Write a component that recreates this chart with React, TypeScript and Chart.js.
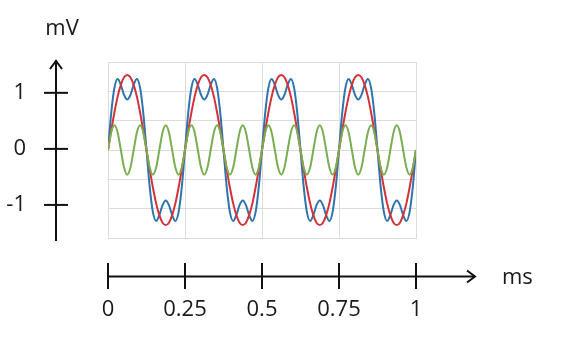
import React, { useEffect, useRef } from "react";
import { Chart, registerables } from "chart.js";

Chart.register(...registerables);

// time in ms
const times = [
  0, 0.0104, 0.0208, 0.0313, 0.0417, 0.0521, 0.0625, 0.0729, 0.0833, 0.0938, 0.1042, 0.1146, 0.125, 0.1354, 0.1458, 0.1563, 0.1667, 0.1771, 0.1875, 0.1979, 0.2083, 0.2188, 0.2292, 0.2396, 0.25,
  0.2604, 0.2708, 0.2813, 0.2917, 0.3021, 0.3125, 0.3229, 0.3333, 0.3438, 0.3542, 0.3646, 0.375, 0.3854, 0.3958, 0.4063, 0.4167, 0.4271, 0.4375, 0.4479, 0.4583, 0.4688, 0.4792, 0.4896, 0.5,
  0.5104, 0.5208, 0.5313, 0.5417, 0.5521, 0.5625, 0.5729, 0.5833, 0.5938, 0.6042, 0.6146, 0.625, 0.6354, 0.6458, 0.6563, 0.6667, 0.6771, 0.6875, 0.6979, 0.7083, 0.7188, 0.7292, 0.7396, 0.75,
  0.7604, 0.7708, 0.7813, 0.7917, 0.8021, 0.8125, 0.8229, 0.8333, 0.8438, 0.8542, 0.8646, 0.875, 0.8854, 0.8958, 0.9063, 0.9167, 0.9271, 0.9375, 0.9479, 0.9583, 0.9688, 0.9792, 0.9896, 1,
];

// fundamental (red), mV
const fundamental = [
  0, 0.33, 0.64, 0.91, 1.11, 1.24, 1.28, 1.24, 1.11, 0.91, 0.64, 0.33, 0, -0.33, -0.64, -0.91, -1.11, -1.24, -1.28, -1.24, -1.11, -0.91, -0.64, -0.33,
  0, 0.33, 0.64, 0.91, 1.11, 1.24, 1.28, 1.24, 1.11, 0.91, 0.64, 0.33, 0, -0.33, -0.64, -0.91, -1.11, -1.24, -1.28, -1.24, -1.11, -0.91, -0.64, -0.33,
  0, 0.33, 0.64, 0.91, 1.11, 1.24, 1.28, 1.24, 1.11, 0.91, 0.64, 0.33, 0, -0.33, -0.64, -0.91, -1.11, -1.24, -1.28, -1.24, -1.11, -0.91, -0.64, -0.33,
  0, 0.33, 0.64, 0.91, 1.11, 1.24, 1.28, 1.24, 1.11, 0.91, 0.64, 0.33, 0, -0.33, -0.64, -0.91, -1.11, -1.24, -1.28, -1.24, -1.11, -0.91, -0.64, -0.33,
  0,
];

// third harmonic (green), mV
const harmonic = [
  0, 0.3, 0.42, 0.3, 0, -0.3, -0.42, -0.3, 0, 0.3, 0.42, 0.3, 0, -0.3, -0.42, -0.3, 0, 0.3, 0.42, 0.3, 0, -0.3, -0.42, -0.3,
  0, 0.3, 0.42, 0.3, 0, -0.3, -0.42, -0.3, 0, 0.3, 0.42, 0.3, 0, -0.3, -0.42, -0.3, 0, 0.3, 0.42, 0.3, 0, -0.3, -0.42, -0.3,
  0, 0.3, 0.42, 0.3, 0, -0.3, -0.42, -0.3, 0, 0.3, 0.42, 0.3, 0, -0.3, -0.42, -0.3, 0, 0.3, 0.42, 0.3, 0, -0.3, -0.42, -0.3,
  0, 0.3, 0.42, 0.3, 0, -0.3, -0.42, -0.3, 0, 0.3, 0.42, 0.3, 0, -0.3, -0.42, -0.3, 0, 0.3, 0.42, 0.3, 0, -0.3, -0.42, -0.3,
  0,
];

// combined signal (blue), mV
const combined = [
  0, 0.63, 1.06, 1.21, 1.11, 0.94, 0.86, 0.94, 1.11, 1.21, 1.06, 0.63, 0, -0.63, -1.06, -1.21, -1.11, -0.94, -0.86, -0.94, -1.11, -1.21, -1.06, -0.63,
  0, 0.63, 1.06, 1.21, 1.11, 0.94, 0.86, 0.94, 1.11, 1.21, 1.06, 0.63, 0, -0.63, -1.06, -1.21, -1.11, -0.94, -0.86, -0.94, -1.11, -1.21, -1.06, -0.63,
  0, 0.63, 1.06, 1.21, 1.11, 0.94, 0.86, 0.94, 1.11, 1.21, 1.06, 0.63, 0, -0.63, -1.06, -1.21, -1.11, -0.94, -0.86, -0.94, -1.11, -1.21, -1.06, -0.63,
  0, 0.63, 1.06, 1.21, 1.11, 0.94, 0.86, 0.94, 1.11, 1.21, 1.06, 0.63, 0, -0.63, -1.06, -1.21, -1.11, -0.94, -0.86, -0.94, -1.11, -1.21, -1.06, -0.63,
  0,
];

const xTickValues = [0, 0.25, 0.5, 0.75, 1];
const xTickLabels = ["0", "0.25", "0.5", "0.75", "1"];
const yTickValues = [1, 0, -1];
const yTickLabels = ["1", "0", "-1"];
const xUnit = "ms";
const yUnit = "mV";

const toPoints = (ys: number[]) => ys.map((y, i) => ({ x: times[i], y }));

const axesPlugin = {
  id: "drawnAxes",
  afterDraw(chart: any) {
    const ctx = chart.ctx as CanvasRenderingContext2D;
    const xs = chart.scales.x;
    const ya = chart.scales.yAxisRef;
    const lineColor = "#111";
    ctx.save();
    ctx.strokeStyle = lineColor;
    ctx.lineWidth = 2;
    ctx.lineCap = "butt";

    // vertical axis with arrow
    const ax = 56;
    ctx.beginPath();
    ctx.moveTo(ax, 241);
    ctx.lineTo(ax, 60);
    ctx.stroke();
    ctx.beginPath();
    ctx.moveTo(ax - 6, 69);
    ctx.lineTo(ax, 61);
    ctx.lineTo(ax + 6, 69);
    ctx.stroke();
    yTickValues.forEach((v) => {
      const py = ya.getPixelForValue(v);
      ctx.beginPath();
      ctx.moveTo(44, py);
      ctx.lineTo(68, py);
      ctx.stroke();
    });

    // horizontal axis with arrow
    const ay = 276.5;
    const x0 = xs.getPixelForValue(0);
    ctx.beginPath();
    ctx.moveTo(x0 - 1, ay);
    ctx.lineTo(475, ay);
    ctx.stroke();
    ctx.beginPath();
    ctx.moveTo(467, ay - 6);
    ctx.lineTo(475, ay);
    ctx.lineTo(467, ay + 6);
    ctx.stroke();
    xTickValues.forEach((v) => {
      const px = xs.getPixelForValue(v);
      ctx.beginPath();
      ctx.moveTo(px, 263);
      ctx.lineTo(px, 289);
      ctx.stroke();
    });

    // labels
    ctx.fillStyle = "#1a1a1a";
    ctx.font = '22px "Open Sans"';
    ctx.textBaseline = "middle";
    ctx.textAlign = "right";
    yTickValues.forEach((v, i) => {
      ctx.fillText(yTickLabels[i], 26, ya.getPixelForValue(v));
    });
    ctx.textAlign = "center";
    xTickValues.forEach((v, i) => {
      ctx.fillText(xTickLabels[i], xs.getPixelForValue(v), 310);
    });
    ctx.fillText(yUnit, 62, 29);
    ctx.textAlign = "left";
    ctx.fillText(xUnit, 502, 278);
    ctx.restore();
  },
};

export default function App() {
  const canvasRef = useRef<HTMLCanvasElement | null>(null);

  useEffect(() => {
    if (!canvasRef.current) return;
    const common = {
      fill: false,
      pointRadius: 0,
      borderWidth: 2,
      cubicInterpolationMode: "monotone" as const,
    };
    const chart = new Chart(canvasRef.current, {
      type: "line",
      data: {
        datasets: [
          { ...common, label: "third harmonic", data: toPoints(harmonic), borderColor: "#7aae52" },
          { ...common, label: "fundamental", data: toPoints(fundamental), borderColor: "#d2323a" },
          { ...common, label: "combined", data: toPoints(combined), borderColor: "#2f74ad" },
        ],
      },
      options: {
        animation: false,
        responsive: false,
        layout: { padding: { left: 108, top: 62, right: 147, bottom: 104 } },
        plugins: { legend: { display: false }, tooltip: { enabled: false } },
        scales: {
          x: {
            type: "linear",
            min: 0,
            max: 1,
            ticks: { display: false, stepSize: 0.25 },
            grid: { color: "#dcdcdc", drawTicks: false, lineWidth: 1 },
            border: { display: true, color: "#dcdcdc" },
          },
          y: {
            type: "linear",
            min: -1.5,
            max: 1.5,
            ticks: { display: false, stepSize: 0.5 },
            grid: { color: "#dcdcdc", drawTicks: false, lineWidth: 1 },
            border: { display: true, color: "#dcdcdc" },
          },
          yAxisRef: {
            type: "linear",
            display: false,
            min: -1.59,
            max: 1.55,
          },
        },
      },
      plugins: [axesPlugin],
    });
    return () => chart.destroy();
  }, []);

  return (
    <div style={{ position: "fixed", left: 0, top: 0, width: 563, height: 342, background: "#fff" }}>
      <canvas ref={canvasRef} width={563} height={342} />
    </div>
  );
}
